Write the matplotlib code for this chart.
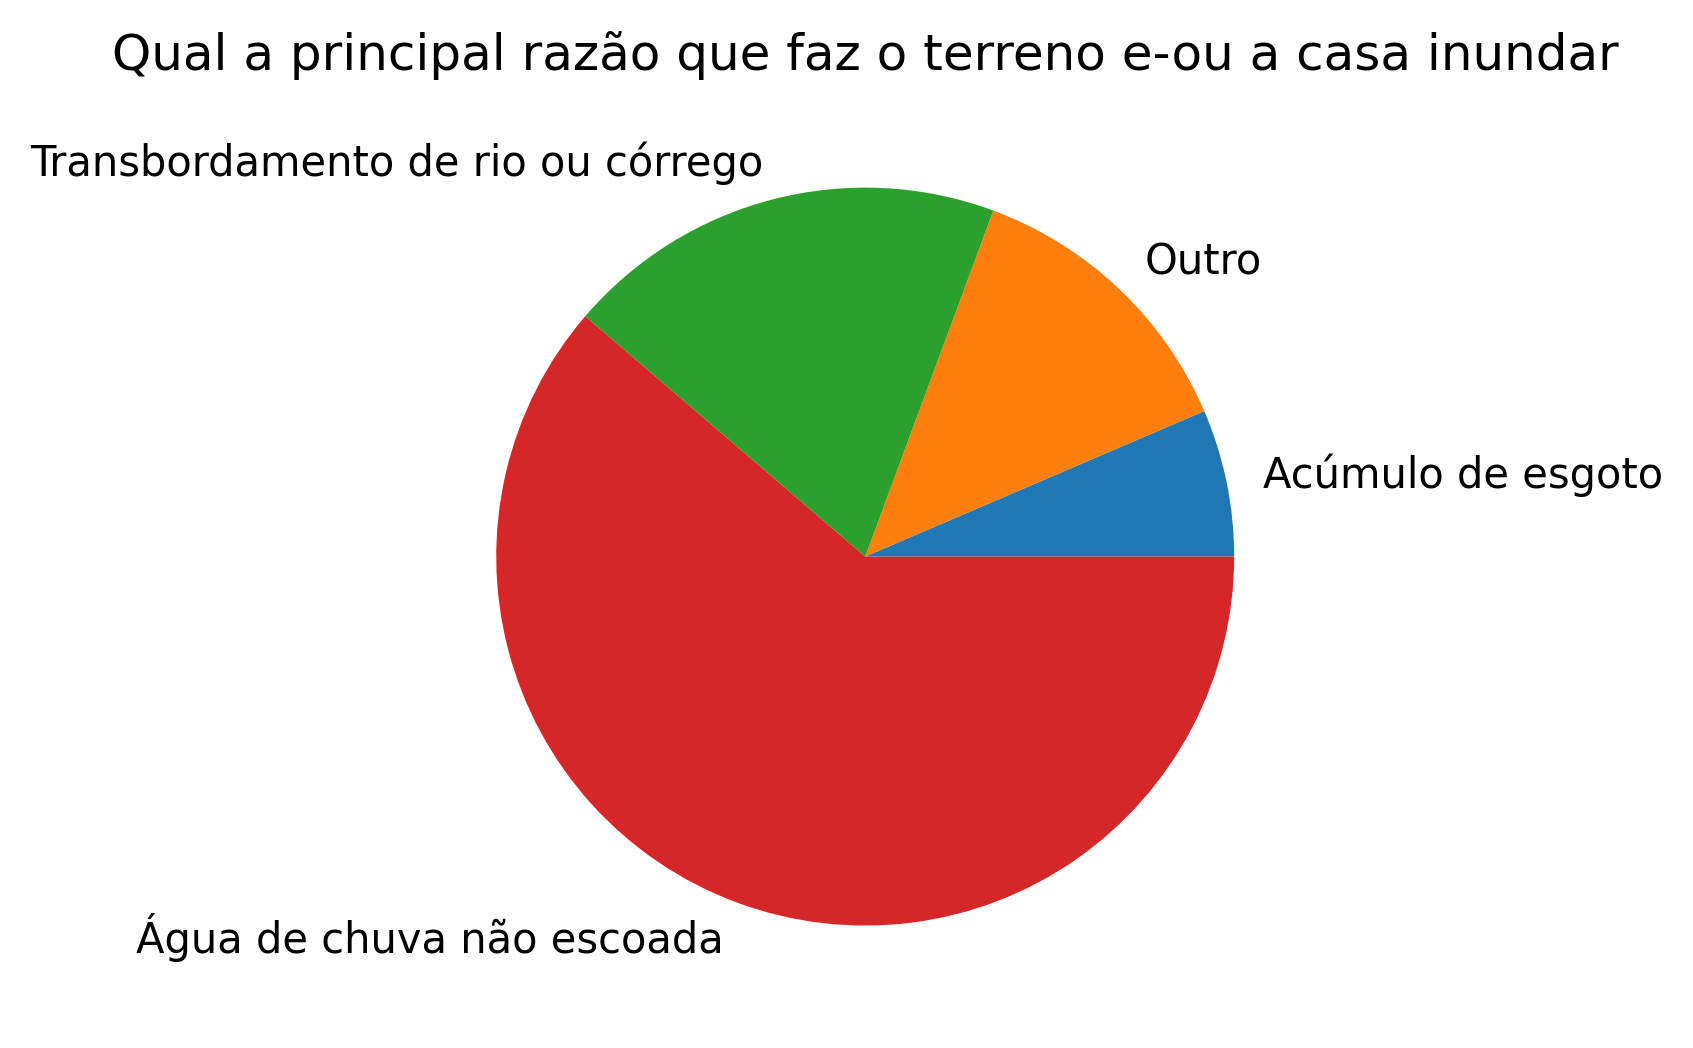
import matplotlib
matplotlib.use('Agg')
import matplotlib.pyplot as plt

# --- data ---
labels = ['Acúmulo de esgoto', 'Outro', 'Transbordamento de rio ou córrego',
          'Água de chuva não escoada']
counts = [2, 4, 6, 19]
title = 'Qual a principal razão que faz o terreno e-ou a casa inundar'

# --- plot ---
fig = plt.figure(figsize=(1693 / 300, 1048 / 300), dpi=300)
ax = fig.add_axes([0.2386, 0.0288, 0.5449, 0.8802])
ax.pie(counts, labels=labels)
ax.set_title(title)

fig.savefig('out.png', dpi=300)
